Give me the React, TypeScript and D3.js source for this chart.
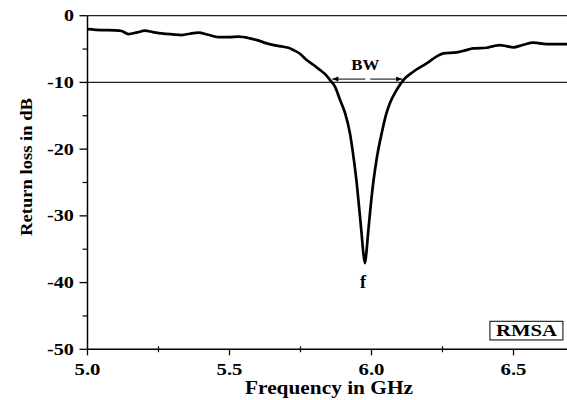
import React from "react";
import * as d3 from "d3";

const freqGHz = [
  5.0, 5.05, 5.097, 5.12, 5.144, 5.175, 5.202, 5.23, 5.261, 5.3, 5.332, 5.36, 5.39, 5.425, 5.46, 5.5,
  5.531, 5.572, 5.6, 5.631, 5.66, 5.689, 5.71, 5.725, 5.748, 5.772, 5.8, 5.819, 5.84, 5.854, 5.871,
  5.889, 5.907, 5.924, 5.936, 5.948, 5.957, 5.965, 5.971, 5.977, 5.982, 5.988, 5.996, 6.006, 6.02,
  6.036, 6.05, 6.065, 6.089, 6.112, 6.147, 6.194, 6.23, 6.253, 6.3, 6.33, 6.358, 6.406, 6.43, 6.452,
  6.475, 6.499, 6.535, 6.57, 6.617, 6.69,
];
const returnLossDB = [
  -2.0, -2.15, -2.2, -2.3, -2.75, -2.5, -2.25, -2.45, -2.65, -2.8, -2.9, -2.7, -2.55, -2.85, -3.2, -3.2,
  -3.15, -3.4, -3.7, -4.15, -4.45, -4.65, -4.85, -5.15, -5.7, -6.65, -7.5, -8.15, -8.9, -9.65, -10.6,
  -12.6, -14.6, -17.6, -21, -25.1, -29, -32.6, -35.5, -37.1, -35.5, -32.6, -29, -25.1, -21,
  -17.6, -15, -13.1, -11.1, -9.65, -8.4, -7.15, -6.1, -5.65, -5.5, -5.2, -4.9, -4.8, -4.55, -4.4,
  -4.55, -4.75, -4.35, -4.05, -4.25, -4.25,
];
const xMajorTicks = [5.0, 5.5, 6.0, 6.5];
const xTickLabels = ["5.0", "5.5", "6.0", "6.5"];
const xMinorTicks = [5.25, 5.75, 6.25];
const yMajorTicks = [0, -10, -20, -30, -40, -50];
const yTickLabels = ["0", "-10", "-20", "-30", "-40", "-50"];
const yMinorTicks = [-5, -15, -25, -35, -45];
const refLevel = -10;
const bwLeft = 5.862;
const bwRight = 6.108;
const bwMid = 5.985;
const bwArrowDB = -9.5;
const bwLabelDB = -8.2;
const fLabel = { f: 5.97, db: -40.8 };
const legendBox = { f0: 6.417, f1: 6.674, db0: -45.8, db1: -48.6 };

const W = 567;
const H = 400;
const FONT = "'Liberation Serif', 'Times New Roman', Times, serif";

function labelWidth(s: string) {
  let w = 0;
  for (const c of s) w += c === "." ? 6 : c === "-" ? 7 : 10;
  return w;
}

function SText({ x, y, anchor = "middle", size = 17, len, rotate = 0, children }: any) {
  return (
    <text
      transform={`translate(${x},${y}) rotate(${rotate})`}
      textAnchor={anchor}
      fontSize={size}
      fontWeight="bold"
      fontFamily={FONT}
      fill="#000"
      textLength={len}
      lengthAdjust={len ? "spacingAndGlyphs" : undefined}
    >
      {children}
    </text>
  );
}

export default function App() {
  const x = d3.scaleLinear().domain([5.0, 6.5]).range([87.5, 513.5]);
  const y = d3.scaleLinear().domain([0, -50]).range([15.7, 349.3]);
  const data = freqGHz.map((f, i) => [f, returnLossDB[i]] as [number, number]);
  const line = d3
    .line<[number, number]>()
    .x((d) => x(d[0]))
    .y((d) => y(d[1]))
    .curve(d3.curveMonotoneX);

  const x0 = x(5.0);
  const yBot = y(-50);
  const yTop = y(0);
  const ah = 6;

  return (
    <svg width={W} height={H} style={{ position: "absolute", left: 0, top: 0, background: "#fff" }}>
      <rect x={0} y={0} width={W} height={H} fill="#fff" />
      {/* top frame line and -10 dB reference */}
      <line x1={x0} x2={W} y1={yTop} y2={yTop} stroke="#222" strokeWidth={1.2} />
      <line x1={x0} x2={W} y1={y(refLevel)} y2={y(refLevel)} stroke="#222" strokeWidth={1.2} />
      {/* curve */}
      <path d={line(data) || ""} fill="none" stroke="#000" strokeWidth={2.7} strokeLinejoin="round" />
      {/* axes */}
      <line x1={x0} x2={W} y1={yBot} y2={yBot} stroke="#000" strokeWidth={1.5} />
      <line x1={x0} x2={x0} y1={yTop} y2={yBot} stroke="#000" strokeWidth={1.5} />
      {xMajorTicks.map((t, i) => (
        <g key={"xm" + i}>
          <line x1={x(t)} x2={x(t)} y1={yBot} y2={yBot + 6} stroke="#000" strokeWidth={1.3} />
          <SText x={x(t)} y={375} len={labelWidth(xTickLabels[i])}>{xTickLabels[i]}</SText>
        </g>
      ))}
      {xMinorTicks.map((t, i) => (
        <line key={"xn" + i} x1={x(t)} x2={x(t)} y1={yBot - 3} y2={yBot + 3} stroke="#000" strokeWidth={1.2} />
      ))}
      {yMajorTicks.map((t, i) => (
        <g key={"ym" + i}>
          <line x1={x0 - 8} x2={x0} y1={y(t)} y2={y(t)} stroke="#000" strokeWidth={1.3} />
          <SText x={74} y={y(t) + 5.5} anchor="end" len={labelWidth(yTickLabels[i])}>{yTickLabels[i]}</SText>
        </g>
      ))}
      {yMinorTicks.map((t, i) => (
        <line key={"yn" + i} x1={x0 - 5} x2={x0} y1={y(t)} y2={y(t)} stroke="#000" strokeWidth={1.2} />
      ))}
      {/* axis titles */}
      <SText x={329} y={394} size={18} len={168}>Frequency in GHz</SText>
      <SText x={32} y={167} size={17} len={138} rotate={-90}>Return loss in dB</SText>
      {/* BW annotation */}
      <line x1={x(bwMid) - 2} x2={x(bwLeft)} y1={y(bwArrowDB)} y2={y(bwArrowDB)} stroke="#000" strokeWidth={1} />
      <path d={`M${x(bwLeft)},${y(bwArrowDB)} l${ah},-2.5 l0,5 z`} fill="#000" />
      <line x1={x(bwMid) + 3} x2={x(bwRight)} y1={y(bwArrowDB)} y2={y(bwArrowDB)} stroke="#000" strokeWidth={1} />
      <path d={`M${x(bwRight)},${y(bwArrowDB)} l${-ah},-2.5 l0,5 z`} fill="#000" />
      <SText x={x(bwMid) - 2} y={y(bwLabelDB)} size={15} len={28}>BW</SText>
      {/* f label */}
      <SText x={x(fLabel.f)} y={y(fLabel.db)} size={18}>f</SText>
      {/* legend box */}
      <rect
        x={x(legendBox.f0)}
        y={y(legendBox.db0)}
        width={x(legendBox.f1) - x(legendBox.f0)}
        height={y(legendBox.db1) - y(legendBox.db0)}
        fill="#fff"
        stroke="#000"
        strokeWidth={1}
      />
      <SText x={(x(legendBox.f0) + x(legendBox.f1)) / 2} y={y(legendBox.db1) - 3.5} size={17} len={61}>RMSA</SText>
    </svg>
  );
}
